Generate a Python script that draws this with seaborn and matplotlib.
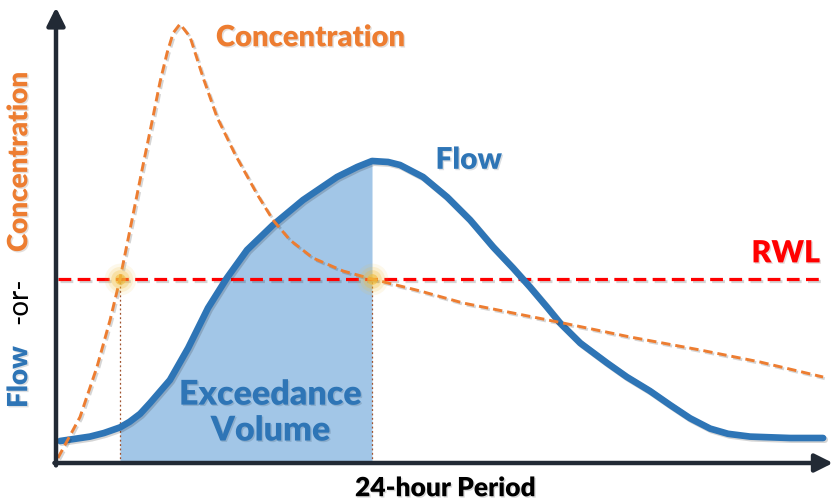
import numpy as np
import pandas as pd
import matplotlib.pyplot as plt
import matplotlib.patheffects as pe
import seaborn as sns

# --- data (hours vs. arbitrary units) ---
flow_hours = [0.13, 1.06, 1.5, 2.0, 2.3, 2.63, 2.94, 3.56, 4.13, 4.75, 5.34, 5.97, 6.78, 7.72,
              8.78, 9.41, 9.875, 10.38, 10.75, 11.47, 12.22, 12.94, 13.66, 14.28,
              14.81, 15.34, 15.75, 16.38, 17.22, 17.84, 18.56, 19.19, 19.81, 20.44,
              21.0, 21.69, 22.94, 23.97]
flow_values = [5.5, 6.6, 7.5, 8.9, 10.3, 12.3, 15.0, 20.75, 28.75, 38.75, 46.25, 53.25, 59.5,
               65.75, 71.5, 74.0, 75.5, 75.25, 74.5, 71.5, 66.5, 60.75, 54.0, 48.75,
               44.0, 39.0, 35.0, 30.0, 25.0, 21.5, 18.0, 14.5, 11.2, 8.6,
               7.3, 6.6, 6.25, 6.25]

conc_hours = [0.06, 0.75, 1.28, 1.69, 2.0, 2.31, 2.72, 3.03, 3.25, 3.47, 3.66, 3.875,
              4.19, 4.59, 5.03, 5.59, 6.28, 6.78, 7.31, 8.03, 8.97, 9.875, 11.38,
              12.72, 15.84, 17.94, 20.13, 22.0, 23.97]
conc_values = [1.25, 11.5, 24.0, 35.75, 46.0, 58.25, 74.5, 86.5, 95.25, 102.5, 107.5, 109.75,
               106.5, 96.5, 86.5, 77.25, 67.25, 60.75, 55.75, 51.25, 48.0, 46.0, 43.0,
               40.0, 35.0, 31.5, 28.25, 25.25, 21.5]

rwl = 46.0
exceed_start = 2.0
exceed_end = 9.875

flow_df = pd.DataFrame({"hour": flow_hours, "value": flow_values})
conc_df = pd.DataFrame({"hour": conc_hours, "value": conc_values})

sns.set_theme(style="white")
plt.rcParams["font.family"] = ["Lato", "DejaVu Sans"]

BLUE = "#2E75B6"
ORANGE = "#ED7D31"
RED = "#FF0000"
AXIS = "#222A35"

shadow = [pe.SimpleLineShadow(offset=(1.2, -1.2), alpha=0.18), pe.Normal()]
tshadow = [pe.withSimplePatchShadow(offset=(1, -1), alpha=0.15)]

fig = plt.figure(figsize=(8.33, 5.01), dpi=100)
ax = fig.add_axes([0, 0, 1, 1])
ax.set_xlim(-1.75, 24.28)
ax.set_ylim(-9.5, 115.75)
ax.axis("off")

# shaded exceedance volume
mask = (flow_df["hour"] >= exceed_start) & (flow_df["hour"] <= exceed_end)
ax.fill_between(flow_df["hour"][mask], 0, flow_df["value"][mask],
                color="#9DC3E6", alpha=0.95, linewidth=0, zorder=1)

# dotted drop lines
for xv in (exceed_start, exceed_end):
    ax.plot([xv, xv], [0, rwl], color="#A0522D", lw=0.9, ls=(0, (1.5, 2)), zorder=2)

# RWL
ax.axhline(rwl, xmin=0.07, xmax=0.985, color=RED, lw=2.3, ls=(0, (4, 2)), zorder=3,
           path_effects=shadow)

# curves
sns.lineplot(data=flow_df, x="hour", y="value", ax=ax, color=BLUE, lw=4.8,
             sort=False, zorder=4, solid_joinstyle="round", path_effects=shadow)
sns.lineplot(data=conc_df, x="hour", y="value", ax=ax, color=ORANGE, lw=2.1,
             sort=False, zorder=5, linestyle=(0, (3.2, 1.7)), path_effects=shadow)

# glow at intersections
for xv in (exceed_start, exceed_end):
    for s, a in [(520, 0.10), (330, 0.16), (180, 0.28), (60, 0.6)]:
        ax.scatter([xv], [rwl], s=s, color="#F2BE3A", alpha=a, lw=0, zorder=6)

# axes with arrows
arrow = dict(arrowstyle="-|>,head_length=0.9,head_width=0.45", color=AXIS, lw=3.2,
             shrinkA=0, shrinkB=0)
ax.annotate("", xy=(24.28, 0), xytext=(-0.05, 0), arrowprops=arrow, zorder=7)
ax.annotate("", xy=(0, 113.9), xytext=(0, -0.6), arrowprops=arrow, zorder=7)

# labels
bold = dict(fontweight="heavy", ha="center", va="center", path_effects=tshadow)
ax.text(7.94, 106.2, "Concentration", color=ORANGE, fontsize=21, **bold)
ax.text(12.9, 75.8, "Flow", color=BLUE, fontsize=21.5, **bold)
ax.text(22.8, 52.4, "RWL", color=RED, fontsize=22, **bold)
ax.text(6.7, 12.6, "Exceedance\nVolume", color=BLUE, fontsize=24.5, linespacing=1.15, **bold)
ax.text(12.16, -6.3, "24-hour Period", color="black", fontsize=19, **bold)

ax.text(-1.15, 21.5, "Flow", color=BLUE, fontsize=20, rotation=90, **bold)
ax.text(-1.15, 40.5, "-or-", color="black", fontsize=20, rotation=90,
        ha="center", va="center")
ax.text(-1.15, 75.3, "Concentration", color=ORANGE, fontsize=20, rotation=90, **bold)

fig.savefig("out.png", dpi=100)
